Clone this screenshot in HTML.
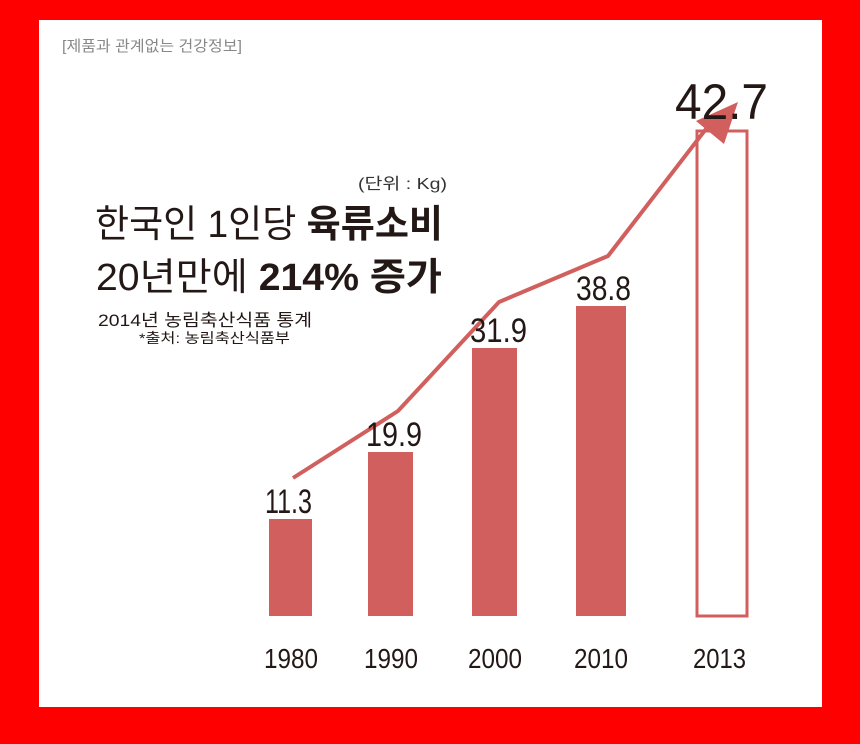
<!DOCTYPE html>
<html><head><meta charset="utf-8"><style>
html,body{margin:0;padding:0;background:#fe0000;}
svg{display:block}
text{font-family:"Liberation Sans","Noto Sans CJK KR",sans-serif;}
</style></head><body>
<svg width="860" height="744" viewBox="0 0 860 744" xmlns="http://www.w3.org/2000/svg">
<rect x="0" y="0" width="860" height="744" fill="#fe0000"/>
<rect x="39" y="20" width="783" height="687" fill="#fff"/>
<text x="62" y="51" font-size="15" fill="#888" textLength="180" lengthAdjust="spacingAndGlyphs">[제품과 관계없는 건강정보]</text>
<text x="358" y="189" font-size="16" fill="#333" textLength="89" lengthAdjust="spacingAndGlyphs">(단위 : Kg)</text>
<text x="95" y="237" font-size="38" fill="#231815" textLength="348" lengthAdjust="spacingAndGlyphs">한국인 1인당 <tspan font-weight="bold">육류소비</tspan></text>
<text x="96" y="290" font-size="38" fill="#231815" textLength="346" lengthAdjust="spacingAndGlyphs">20년만에 <tspan font-weight="bold">214% 증가</tspan></text>
<text x="98" y="326" font-size="17" fill="#231815" textLength="214" lengthAdjust="spacingAndGlyphs">2014년 농림축산식품 통계</text>
<text x="139" y="343" font-size="14" fill="#231815" textLength="151" lengthAdjust="spacingAndGlyphs">*출처: 농림축산식품부</text>
<g fill="#d05f5d">
<rect x="269" y="519" width="43" height="97"/>
<rect x="368" y="452" width="45" height="164"/>
<rect x="472" y="348" width="45" height="268"/>
<rect x="576" y="306" width="50" height="310"/>
</g>
<rect x="697" y="131" width="50" height="485" fill="none" stroke="#d05f5d" stroke-width="3"/>
<polyline points="293,478 398,411 499,302 608,256 716,116" fill="none" stroke="#d05f5d" stroke-width="4"/>
<polygon points="738,102 696,121 724,144" fill="#d05f5d"/>
<g font-size="34" fill="#231815">
<text x="265" y="513" textLength="47" lengthAdjust="spacingAndGlyphs">11.3</text>
<text x="366" y="446" textLength="56" lengthAdjust="spacingAndGlyphs">19.9</text>
<text x="470" y="342" textLength="57" lengthAdjust="spacingAndGlyphs">31.9</text>
<text x="576" y="300" textLength="55" lengthAdjust="spacingAndGlyphs">38.8</text>
<text x="675" y="119" font-size="50" textLength="93" lengthAdjust="spacingAndGlyphs">42.7</text>
</g>
<g font-size="28" fill="#231815">
<text x="264" y="668" textLength="54" lengthAdjust="spacingAndGlyphs">1980</text>
<text x="364" y="668" textLength="54" lengthAdjust="spacingAndGlyphs">1990</text>
<text x="468" y="668" textLength="54" lengthAdjust="spacingAndGlyphs">2000</text>
<text x="574" y="668" textLength="54" lengthAdjust="spacingAndGlyphs">2010</text>
<text x="693" y="668" textLength="53" lengthAdjust="spacingAndGlyphs">2013</text>
</g>
</svg>
</body></html>
